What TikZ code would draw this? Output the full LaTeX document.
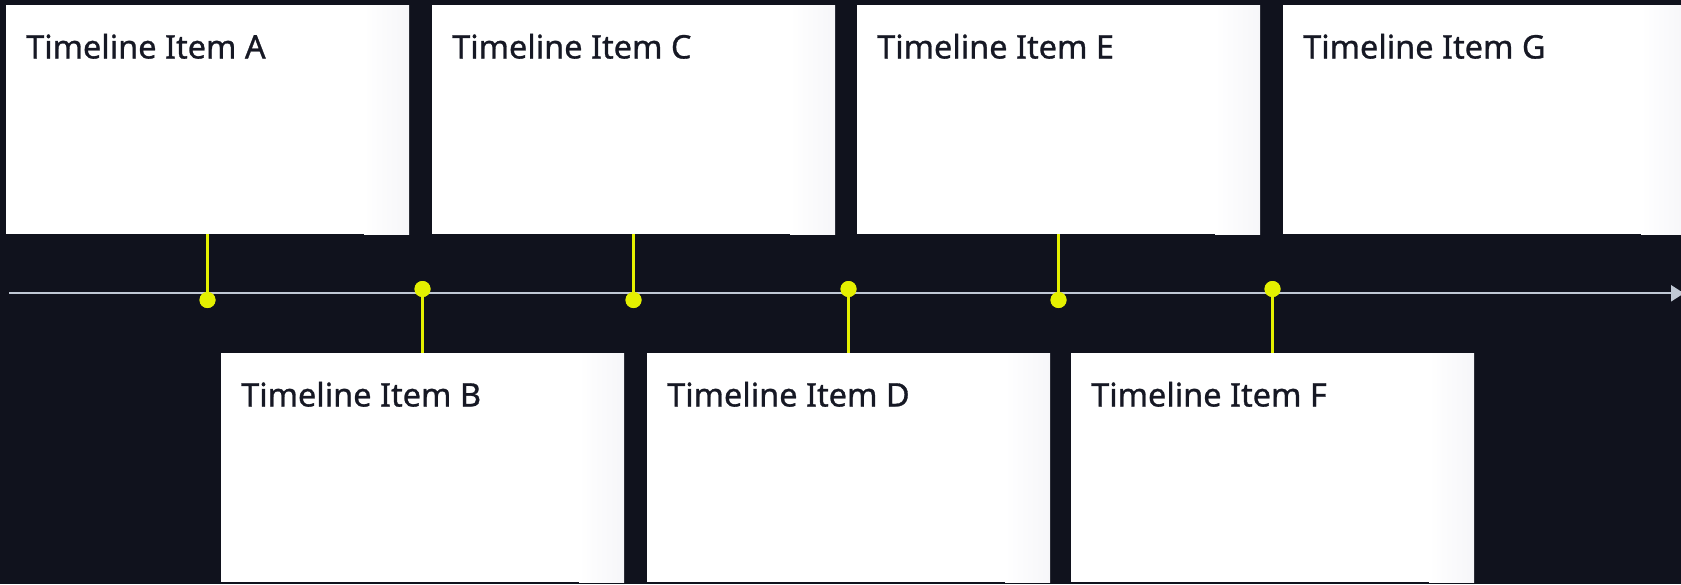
\documentclass[tikz,border=0pt]{standalone}
\usepackage{fontspec}
\setmainfont{Noto Sans}
\newfontfamily\cardfont{Noto Sans}[FakeBold=0.9]
\usetikzlibrary{arrows.meta,calc}
\definecolor{bgdark}{RGB}{16,18,29}
\definecolor{tlgray}{RGB}{192,200,212}
\definecolor{tlyellow}{RGB}{228,240,0}
\definecolor{inkdark}{RGB}{22,24,36}
\definecolor{edgegray}{RGB}{246,246,249}
\tikzset{
  card/.style={rectangle, fill=white, draw=none, minimum width=403pt, minimum height=229pt, anchor=north west, inner sep=0pt, outer sep=0pt},
  cardtext/.style={anchor=base west, inner sep=0pt, text=inkdark, font=\cardfont\fontsize{32.5}{38}\selectfont},
  dot/.style={circle, fill=tlyellow, draw=none, minimum size=16pt, inner sep=0pt},
  stem/.style={draw=tlyellow, line width=2.6pt},
  axis/.style={draw=tlgray, line width=2.3pt, -{Triangle[length=13pt,width=16pt]}}
}
\begin{document}
\begin{tikzpicture}[x=1pt,y=-1pt]
\fill[bgdark] (0,0) rectangle (1681,584);
\useasboundingbox (0,0) rectangle (1681,584);
\clip (0,0) rectangle (1681,584);
% timeline
\coordinate (tlstart) at (9,293.3);
\coordinate (tlend) at (1684,293.3);
\draw[axis] (tlstart) -- (tlend);
% cards
\node[card] (A) at (6,5) {};
\node[card] (C) at (432,5) {};
\node[card] (E) at (857,5) {};
\node[card] (G) at (1283,5) {};
\node[card] (B) at (221,353) {};
\node[card] (D) at (647,353) {};
\node[card] (F) at (1071,353) {};
% soft right edge of each card
\foreach \n in {A,B,C,D,E,F,G}{
  \shade[left color=white, right color=edgegray] ($(\n.north east)+(-45,0)$) rectangle (\n.south east);
}
% labels
\foreach \n in {A,B,C,D,E,F,G}{
  \node[cardtext] (t\n) at ($(\n.north west)+(20,53.5)$) {Timeline Item \n};
}
% dots
\node[dot] (dA) at (A.south |- 0,300) {};
\node[dot] (dC) at (C.south |- 0,300) {};
\node[dot] (dE) at (E.south |- 0,300) {};
\node[dot] (dB) at (B.north |- 0,289) {};
\node[dot] (dD) at (D.north |- 0,289) {};
\node[dot] (dF) at (F.north |- 0,289) {};
% stems
\draw[stem] (A.south) -- (dA.center);
\draw[stem] (C.south) -- (dC.center);
\draw[stem] (E.south) -- (dE.center);
\draw[stem] (dB.center) -- (B.north);
\draw[stem] (dD.center) -- (D.north);
\draw[stem] (dF.center) -- (F.north);
% redraw dots on top
\foreach \d in {dA,dB,dC,dD,dE,dF}{\fill[tlyellow] (\d.center) circle (8pt);}
\end{tikzpicture}
\end{document}
